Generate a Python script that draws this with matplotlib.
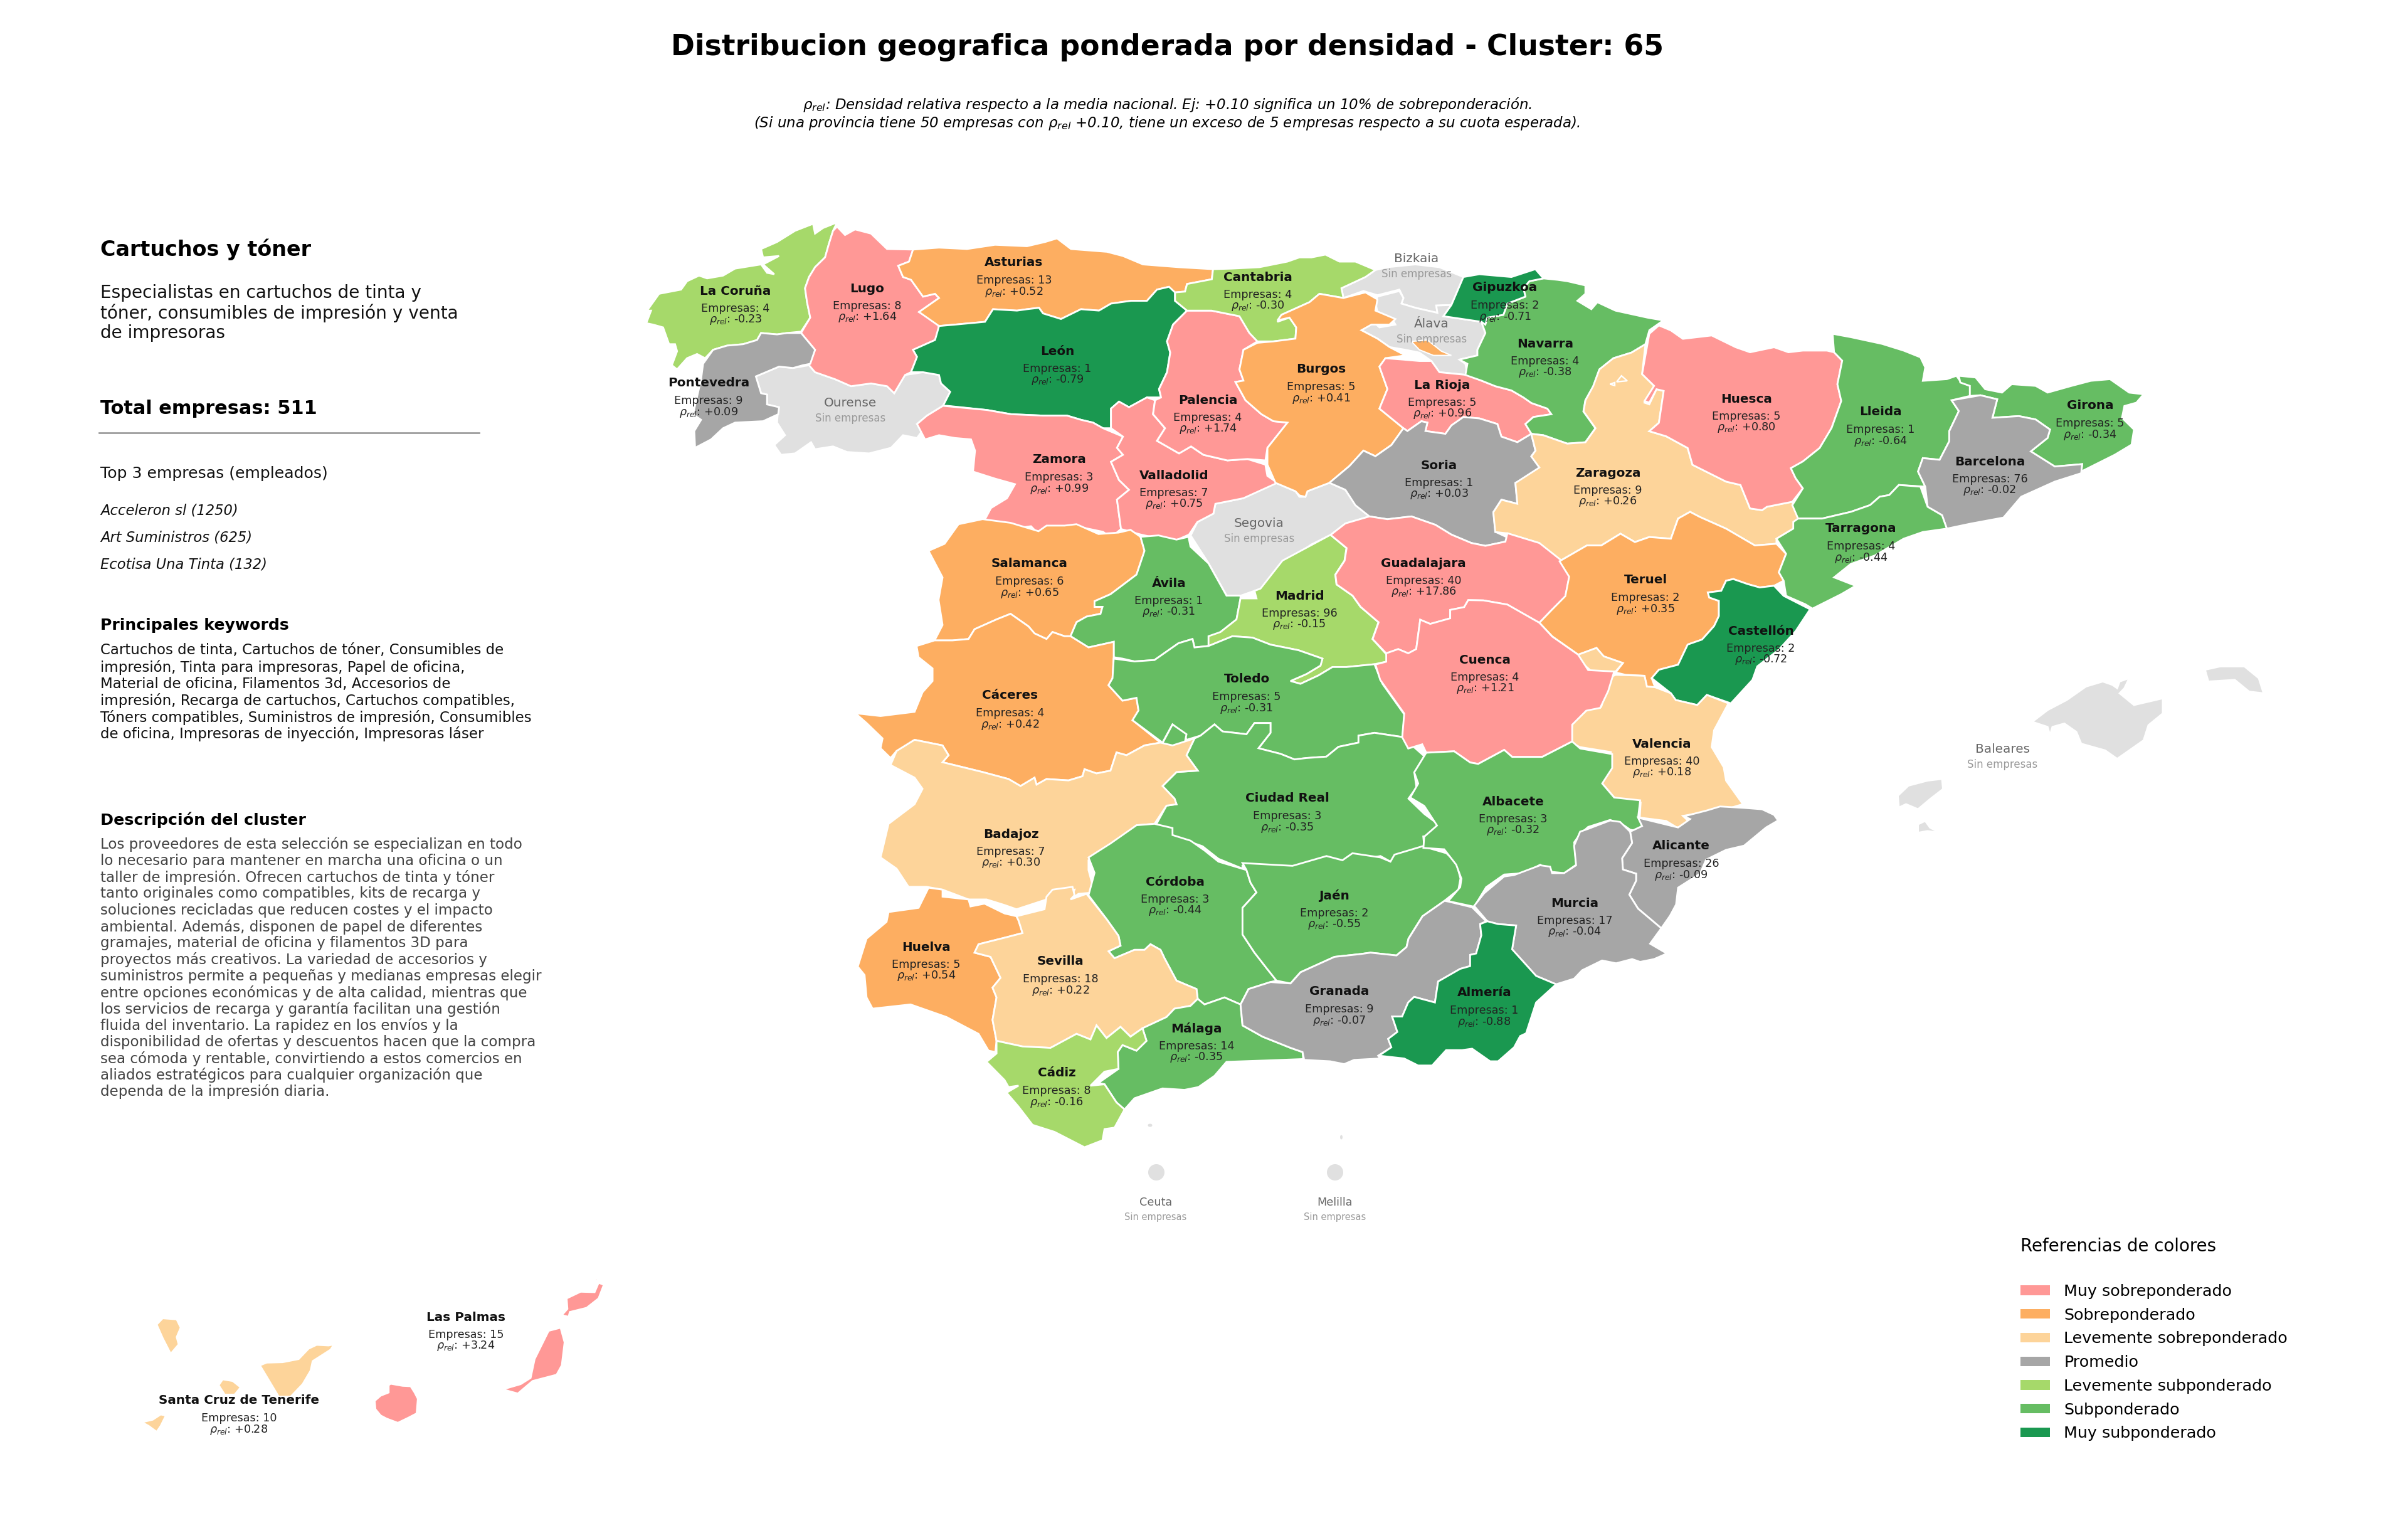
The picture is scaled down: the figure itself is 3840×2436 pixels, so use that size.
import matplotlib
matplotlib.use('Agg')
import matplotlib.pyplot as plt
from matplotlib.patches import Polygon, Ellipse, Patch

# datos por provincia
provincias = ['La Coruña', 'Lugo', 'Asturias', 'León', 'Pontevedra', 'Zamora', 'Valladolid', 'Palencia',
              'Salamanca', 'Ávila', 'Cantabria', 'Burgos', 'La Rioja', 'Navarra', 'Gipuzkoa', 'Soria',
              'Zaragoza', 'Huesca', 'Madrid', 'Guadalajara', 'Teruel', 'Lleida', 'Girona', 'Barcelona',
              'Tarragona', 'Castellón', 'Valencia', 'Cáceres', 'Toledo', 'Ciudad Real', 'Badajoz', 'Córdoba',
              'Jaén', 'Cuenca', 'Albacete', 'Alicante', 'Murcia', 'Huelva', 'Sevilla', 'Málaga', 'Granada',
              'Cádiz', 'Almería', 'Las Palmas', 'Santa Cruz de Tenerife']
empresas = [4, 8, 13, 1, 9, 3, 7, 4, 6, 1, 4, 5, 5, 4, 2, 1, 9, 5, 96, 40, 2, 1, 5, 76, 4, 2, 40, 4, 5, 3, 7, 3,
            2, 4, 3, 26, 17, 5, 18, 14, 9, 8, 1, 15, 10]
rho_rel = [-0.23, 1.64, 0.52, -0.79, 0.09, 0.99, 0.75, 1.74, 0.65, -0.31, -0.30, 0.41, 0.96, -0.38, -0.71, 0.03,
           0.26, 0.80, -0.15, 17.86, 0.35, -0.64, -0.34, -0.02, -0.44, -0.72, 0.18, 0.42, -0.31, -0.35, 0.30, -0.44,
           -0.55, 1.21, -0.32, -0.09, -0.04, 0.54, 0.22, -0.35, -0.07, -0.16, -0.88, 3.24, 0.28]
categoria = [4, 0, 1, 6, 3, 0, 0, 0, 1, 5, 4, 1, 0, 5, 6, 3, 2, 0, 4, 0, 1, 5, 5, 3, 5, 6, 2, 1, 5, 5, 2, 5,
             5, 0, 5, 3, 3, 1, 2, 5, 3, 4, 6, 0, 2]
sin_empresas = ['Ourense', 'Bizkaia', 'Álava', 'Segovia', 'Baleares', 'Ceuta', 'Melilla']

# centro de la etiqueta (px de la imagen)
label_xy = [(1173, 464), (1383, 460), (1617, 419), (1686, 560), (1130, 611), (1689, 733), (1872, 758), (1926, 638),
            (1642, 899), (1864, 930), (2006, 442), (2107, 589), (2300, 614), (2464, 548), (2400, 459), (2295, 742),
            (2564, 754), (2785, 636), (2072, 950), (2270, 898), (2624, 925), (2999, 657), (3333, 647), (3173, 736),
            (2968, 843), (2808, 1006), (2650, 1186), (1611, 1109), (1988, 1083), (2053, 1273), (1612, 1330), (1874, 1406),
            (2128, 1428), (2368, 1052), (2413, 1278), (2681, 1349), (2511, 1440), (1477, 1510), (1691, 1533), (1908, 1640),
            (2136, 1581), (1685, 1711), (2367, 1583), (743, 2100), (381, 2233)]
sin_label_xy = [(1356, 643), (2259, 413), (2283, 517), (2008, 835), (3193, 1195), (1843, 1917), (2129, 1917)]

cat_labels = ['Muy sobreponderado', 'Sobreponderado', 'Levemente sobreponderado', 'Promedio',
              'Levemente subponderado', 'Subponderado', 'Muy subponderado']
cat_colors = ['#FF9896', '#FDAE61', '#FDD49A', '#A6A6A6', '#A6D96A', '#66BD63', '#1A9850']
color_sin = '#E0E0E0'

# contornos trazados a mano sobre recortes del mapa: (x0, y0, escala x, escala y)
Z1 = (1000, 330, 1.568, 2.24)
Z2 = (1900, 330, 1.568, 2.24)
Z3 = (2500, 500, 1.3067, 1.867)
Z4 = (1350, 800, 1.568, 2.24)
Z5 = (2150, 950, 1.568, 2.24)
Z6 = (1350, 1300, 1.568, 2.24)
Z7 = (2000, 1250, 1.568, 2.24)
Z8 = (100, 2000, 1.568, 3.0)

coruna = [(525,55),(515,85),(505,130),(495,180),(470,215),(455,250),(445,290),(450,340),(458,395),(435,445),(400,450),(375,455),(335,450),(325,475),(290,490),(250,495),(215,510),(195,540),(175,525),(150,540),(125,580),(112,565),(125,515),(120,490),(105,490),(90,430),(65,420),(48,415),(60,370),(50,370),(80,310),(135,295),(150,265),(180,245),(200,255),(240,245),(270,220),(335,205),(350,235),(368,240),(340,205),(380,175),(340,180),(335,150),(375,125),(420,85),(465,60),(470,95),(490,75)]
pontevedra = [(435,450),(470,510),(458,560),(440,565),(415,575),(380,570),(322,605),(335,665),(350,670),(350,705),(380,715),(378,740),(340,765),(270,770),(240,790),(210,830),(170,860),(168,800),(185,760),(165,740),(185,615),(190,560),(215,510),(250,495),(290,490),(325,475),(335,450),(375,455),(400,450)]
ourense = [(322,605),(380,570),(415,575),(455,565),(470,590),(520,615),(560,640),(610,630),(650,640),(668,665),(695,600),(740,590),(780,600),(785,630),(808,660),(790,710),(750,745),(725,775),(740,795),(725,825),(690,815),(660,860),(605,880),(550,875),(515,855),(470,865),(460,840),(420,880),(385,885),(368,850),(395,815),(375,770),(378,715),(350,705),(350,670),(335,665)]
lugo = [(525,70),(545,100),(570,80),(610,95),(650,150),(715,152),(705,195),(678,210),(690,250),(710,260),(740,320),(770,310),(780,325),(730,375),(775,405),(780,435),(770,475),(715,510),(725,535),(710,590),(695,600),(668,665),(650,640),(610,630),(560,640),(520,615),(470,590),(455,565),(470,510),(435,450),(458,395),(450,340),(445,290),(455,250),(470,215),(495,180),(505,130),(515,85)]
asturias = [(715,152),(780,145),(850,150),(920,135),(1000,140),(1045,125),(1075,112),(1110,150),(1200,160),(1240,175),(1290,205),(1380,215),(1465,222),(1462,258),(1400,275),(1395,302),(1370,305),(1355,285),(1325,295),(1300,335),(1260,335),(1210,345),(1180,370),(1135,365),(1085,400),(1040,380),(1030,360),(1000,365),(975,370),(915,365),(895,410),(820,420),(780,425),(730,375),(780,325),(770,310),(740,320),(710,260),(690,250),(678,210),(705,195)]
leon = [(780,425),(820,420),(895,410),(915,365),(975,370),(1000,365),(1030,360),(1040,380),(1085,400),(1135,365),(1180,370),(1210,345),(1260,335),(1300,335),(1325,295),(1355,285),(1370,305),(1370,335),(1400,370),(1365,420),(1350,480),(1358,520),(1350,590),(1330,650),(1335,680),(1300,680),(1255,715),(1230,695),(1210,720),(1210,790),(1190,790),(1165,770),(1135,760),(1100,745),(1040,745),(960,740),(900,725),(800,710),(790,710),(808,660),(785,630),(780,600),(740,590),(710,590),(725,535),(715,510),(770,475)]
zamora = [(790,710),(900,725),(960,740),(1040,745),(1100,745),(1135,760),(1165,770),(1190,790),(1240,820),(1225,860),(1240,885),(1210,910),(1230,975),(1255,1010),(1225,1045),(1235,1150),(1210,1180),(1190,1160),(1140,1145),(1100,1170),(1050,1140),(1030,1170),(1010,1140),(960,1150),(895,1115),(910,1075),(950,1040),(970,990),(920,970),(865,945),(870,870),(860,830),(820,825),(780,815),(745,830),(725,775),(750,745)]
valladolid = [(1210,790),(1210,720),(1230,695),(1255,715),(1300,680),(1320,690),(1315,740),(1345,790),(1325,835),(1380,880),(1410,855),(1441,885),(1501,905),(1551,900),(1596,920),(1601,960),(1626,985),(1541,1040),(1471,1060),(1466,1095),(1426,1125),(1405,1170),(1365,1195),(1285,1170),(1235,1150),(1225,1045),(1255,1010),(1230,975),(1210,910),(1240,885),(1225,860),(1240,820)]
palencia = [(-11,370),(50,370),(120,390),(145,450),(165,480),(130,510),(120,580),(130,620),(110,625),(135,690),(175,740),(205,765),(240,770),(215,815),(190,860),(185,905),(140,900),(90,905),(30,885),(-1,855),(-31,880),(-86,835),(-66,790),(-96,740),(-91,690),(-76,680),(-81,650),(-61,590),(-53,520),(-61,480),(-46,420)]
cantabria = [(54,222),(100,220),(170,215),(240,195),(270,180),(300,180),(335,170),(370,195),(410,195),(460,225),(435,250),(375,290),(380,325),(320,310),(295,340),(225,385),(215,410),(245,395),(262,430),(260,470),(205,480),(165,480),(145,450),(120,390),(50,370),(-11,370),(-41,335),(-41,305),(-16,302),(-11,275),(51,258)]
burgos = [(215,405),(225,385),(295,340),(320,310),(380,325),(435,305),(465,330),(460,370),(510,400),(495,420),(450,420),(425,440),(465,470),(495,500),(535,530),(485,540),(470,570),(490,650),(470,720),(530,790),(500,850),(460,890),(430,870),(395,925),(345,985),(290,1015),(285,1035),(270,1030),(260,1015),(210,985),(190,920),(190,860),(240,770),(205,765),(175,740),(135,690),(110,625),(130,620),(120,580),(130,510),(165,485),(205,480),(260,470),(262,430),(245,395)]
bizkaia = [(435,250),(460,225),(490,215),(560,205),(620,215),(680,250),(665,300),(650,350),(612,352),(615,378),(560,360),(525,345),(530,325),(520,295),(465,315),(430,300),(380,325),(375,290)]
alava = [(465,320),(520,300),(530,325),(525,345),(560,360),(615,378),(612,352),(650,350),(630,390),(725,410),(735,450),(715,510),(715,530),(670,545),(685,560),(690,600),(620,590),(600,550),(570,520),(535,510),(495,500),(465,470),(425,440),(455,410),(470,430),(510,420),(500,395),(465,375),(460,340)]
trevino = [(550,480),(590,475),(625,515),(650,530),(605,530),(570,510)]
gipuzkoa = [(680,250),(720,240),(800,250),(860,222),(880,255),(845,265),(830,290),(835,320),(790,345),(780,385),(740,395),(735,420),(725,410),(630,390),(650,350),(665,300)]
navarra = [(830,290),(845,265),(880,255),(915,260),(940,265),(985,280),(985,310),(965,335),(1000,365),(1015,340),(1060,370),(1140,395),(1180,405),(1145,440),(1135,490),(1100,520),(1055,540),(1020,580),(1005,640),(985,690),(980,730),(1010,790),(985,840),(940,845),(880,815),(850,810),(835,775),(855,750),(900,740),(890,720),(850,700),(830,680),(800,655),(760,640),(725,620),(685,600),(690,560),(670,545),(715,530),(715,510),(735,450),(725,410),(740,395),(780,385),(790,345),(835,320)]
rioja = [(470,570),(485,540),(530,545),(570,550),(600,550),(620,590),(690,600),(725,620),(760,640),(800,655),(830,680),(850,700),(890,720),(900,740),(855,750),(835,775),(850,810),(815,840),(775,820),(765,775),(720,755),(680,750),(650,780),(635,810),(585,800),(590,770),(575,765),(540,800),(530,790),(470,720),(490,650)]
soria = [(530,790),(540,800),(575,765),(590,770),(585,800),(635,810),(650,780),(680,750),(720,755),(765,775),(775,820),(815,840),(850,810),(860,870),(850,890),(870,930),(850,960),(810,985),(815,1060),(775,1045),(755,1090),(760,1160),(790,1180),(785,1195),(735,1210),(700,1200),(650,1170),(610,1135),(550,1105),(490,1115),(445,1105),(410,1065),(385,1010),(345,985),(395,925),(430,870),(460,890),(500,850)]
segovia = [(210,985),(260,1015),(270,1035),(285,1035),(290,1015),(345,985),(385,1010),(410,1065),(445,1105),(385,1130),(348,1171),(300,1205),(225,1280),(173,1363),(123,1388),(88,1388),(43,1273),(-2,1173),(15,1125),(55,1095),(60,1060),(130,1040)]
guadalajara = [(348,1171),(385,1130),(445,1105),(490,1115),(550,1105),(610,1135),(650,1170),(700,1200),(735,1210),(785,1195),(790,1165),(870,1200),(925,1262),(945,1320),(935,1390),(900,1440),(870,1485),(790,1420),(730,1405),(692,1404),(682,1429),(647,1439),(647,1469),(597,1489),(572,1474),(562,1579),(542,1594),(517,1579),(487,1594),(453,1543),(468,1483),(423,1428),(403,1388),(363,1348),(360,1313),(383,1263),(388,1218)]
madrid = [(1210,118),(1250,165),(1245,210),(1222,260),(1225,295),(1265,335),(1285,375),(1330,430),(1315,490),(1350,545),(1352,570),(1320,580),(1250,590),(1215,590),(1180,620),(1135,650),(1110,640),(1150,615),(1185,585),(1190,560),(1130,530),(1060,510),(1015,485),(965,480),(905,515),(905,480),(935,465),(975,420),(985,345),(1025,345),(1020,318),(1035,310),(1090,210)]
avila = [(735,125),(780,120),(825,135),(855,125),(860,160),(905,220),(950,335),(985,335),(985,345),(975,420),(935,465),(905,515),(870,520),(865,490),(830,505),(790,545),(770,565),(720,570),(690,560),(668,555),(668,500),(605,520),(560,480),(575,430),(600,410),(635,400),(640,375),(620,375),(620,355),(660,330),(725,260),(745,175)]
salamanca = [(340,62),(410,75),(480,105),(500,85),(545,85),(575,80),(630,115),(680,110),(710,100),(735,125),(745,175),(725,260),(660,330),(620,355),(620,375),(640,375),(635,400),(600,410),(575,430),(560,480),(545,480),(515,465),(500,490),(470,470),(455,445),(410,400),(375,420),(320,455),(305,490),(265,495),(220,495),(240,440),(230,350),(240,270),(205,175),(245,150),(280,80)]
caceres = [(175,515),(220,495),(265,495),(305,490),(320,455),(375,420),(410,400),(455,445),(470,470),(500,490),(515,465),(545,480),(560,480),(605,520),(668,500),(668,555),(665,630),(655,655),(690,710),(725,700),(730,745),(715,780),(785,860),(745,870),(700,905),(675,895),(660,960),(625,970),(595,955),(590,980),(555,995),(500,990),(475,1010),(470,985),(435,1015),(405,990),(340,965),(240,930),(255,905),(240,870),(170,850),(125,890),(110,915),(85,880),(90,845),(50,790),(22,755),(85,765),(170,750),(190,680),(215,640),(215,595),(180,555)]
badajoz = [(170,850),(240,870),(255,905),(240,930),(340,965),(405,990),(435,1015),(470,985),(475,1010),(500,990),(555,995),(590,980),(595,955),(625,970),(660,960),(675,895),(700,905),(745,870),(785,860),(815,870),(870,845),(850,905),(878,960),(825,965),(790,1015),(820,1060),(825,1080),(800,1085),(770,1150),(725,1155),(660,1230),(605,1280),(605,1315),(620,1395),(580,1400),(560,1420),(570,1385),(515,1395),(500,1420),(425,1455),(395,1440),(350,1420),(305,1420),(240,1385),(200,1375),(155,1375),(125,1310),(85,1270),(105,1150),(170,1080),(190,1025),(170,985),(110,940),(125,890)]
toledo = [(668,560),(720,570),(770,565),(790,545),(830,505),(865,490),(870,520),(905,515),(965,480),(1015,485),(1060,510),(1130,530),(1190,560),(1185,585),(1150,615),(1110,640),(1135,650),(1180,620),(1215,590),(1250,590),(1320,580),(1340,650),(1395,760),(1390,840),(1320,825),(1280,835),(1280,860),(1230,875),(1200,910),(1150,915),(1120,920),(1085,900),(1030,880),(1060,825),(1060,790),(1020,790),(1000,830),(940,820),(920,795),(885,835),(850,850),(845,830),(815,795),(790,860),(715,780),(730,745),(725,700),(690,710),(655,655),(665,630)]
ciudad_real = [(870,845),(885,835),(920,795),(940,820),(1000,830),(1020,790),(1060,790),(1060,825),(1030,880),(1085,900),(1120,920),(1150,915),(1200,910),(1230,875),(1280,860),(1280,835),(1320,825),(1390,840),(1450,915),(1420,970),(1425,1020),(1405,1060),(1445,1115),(1478,1150),(1465,1190),(1442,1195),(1445,1235),(1395,1260),(1360,1285),(1335,1265),(1260,1285),(1240,1290),(1200,1275),(1120,1300),(990,1300),(990,1310),(930,1275),(890,1230),(810,1190),(775,1150),(800,1085),(825,1080),(820,1060),(790,1015),(825,965),(878,960),(850,905)]
ciudad_real_isla = [(815,795),(850,830),(845,865),(815,875),(790,862)]
cordoba = [(725,35),(770,30),(815,45),(815,70),(860,90),(895,125),(930,165),(1000,195),(1010,240),(1025,275),(990,330),(990,425),(1020,490),(1050,545),(1075,590),(1060,595),(1005,620),(985,675),(945,650),(895,675),(878,655),(875,620),(825,590),(795,510),(785,480),(760,460),(745,480),(720,480),(670,510),(655,485),(685,465),(680,430),(650,370),(605,285),(620,205),(605,150),(660,100)]
jaen = [(990,170),(1115,180),(1200,145),(1240,160),(1265,135),(1335,150),(1360,165),(1370,140),(1440,110),(1500,135),(1525,170),(1535,225),(1530,265),(1495,305),(1440,360),(1405,440),(1400,470),(1375,500),(1310,490),(1285,495),(1220,505),(1135,560),(1110,600),(1075,590),(1050,545),(1020,490),(990,425),(990,330),(1025,275),(1010,240),(1000,195)]
sevilla = [(425,360),(495,335),(500,290),(515,265),(565,255),(570,285),(560,300),(600,280),(650,370),(680,430),(685,465),(655,485),(670,510),(720,480),(745,480),(760,460),(785,480),(795,510),(825,590),(875,620),(878,655),(860,680),(820,690),(800,720),(740,760),(710,790),(685,755),(650,795),(625,750),(610,800),(575,780),(510,830),(440,825),(375,805),(365,730),(375,650),(365,615),(385,580),(360,505),(320,490),(330,460),(400,435),(440,420),(430,375)]
huelva = [(205,258),(240,265),(240,290),(305,300),(310,325),(345,315),(395,350),(425,360),(430,375),(440,420),(400,435),(330,460),(320,490),(360,505),(385,580),(365,615),(375,650),(365,730),(375,805),(372,845),(355,840),(330,780),(250,720),(160,675),(65,690),(50,650),(45,570),(28,540),(50,440),(100,380),(105,345),(180,330)]
cadiz = [(375,805),(440,825),(510,830),(575,780),(610,800),(625,750),(650,795),(685,755),(710,790),(740,760),(750,805),(725,840),(690,820),(678,845),(680,905),(645,915),(610,965),(645,960),(675,1025),(695,1050),(670,1115),(645,1120),(640,1160),(595,1185),(520,1130),(465,1105),(430,1040),(400,990),(430,965),(405,970),(395,945),(350,880),(375,850)]
malaga = [(878,655),(895,675),(945,650),(985,675),(990,750),(1040,790),(1110,830),(1140,845),(1142,870),(1050,875),(950,880),(920,930),(880,970),(845,980),(790,975),(720,1010),(695,1050),(675,1025),(645,960),(630,955),(680,905),(678,845),(690,820),(725,840),(750,805),(740,760),(800,720),(820,690),(860,680)]
granada = [(-34,787),(-14,732),(41,707),(91,712),(116,672),(201,617),(266,607),(291,602),(356,612),(381,582),(386,552),(421,472),(476,417),(487,420),(545,440),(580,490),(565,500),(568,540),(555,605),(540,610),(540,650),(515,660),(460,705),(452,780),(400,760),(385,780),(370,830),(345,830),(358,885),(335,910),(343,940),(310,970),(315,980),(250,985),(225,1000),(190,990),(125,985),(121,957),(91,942),(21,902),(-29,862)]
almeria = [(583,490),(610,500),(655,505),(645,590),(705,685),(755,715),(705,780),(680,890),(665,900),(650,940),(610,990),(590,990),(545,945),(520,950),(480,950),(445,1005),(410,1005),(375,980),(312,970),(343,940),(335,910),(358,885),(345,830),(370,830),(385,780),(400,760),(452,780),(460,705),(515,660),(540,650),(540,610),(555,605),(568,540),(565,500)]
murcia = [(550,435),(575,390),(625,330),(650,325),(715,290),(740,295),(745,318),(775,318),(805,290),(800,220),(815,170),(835,160),(890,130),(915,135),(940,170),(945,210),(920,265),(922,305),(955,320),(955,345),(938,395),(960,445),(1018,515),(990,570),(1032,605),(1000,625),(965,635),(945,625),(905,640),(870,630),(820,665),(800,695),(755,715),(705,685),(645,590),(655,505),(610,500),(583,490)]
alicante = [(960,120),(1060,155),(1090,125),(1075,115),(1130,95),(1165,80),(1225,85),(1270,90),(1300,110),(1310,130),(1280,155),(1225,220),(1180,235),(1130,270),(1115,320),(1060,370),(1055,430),(1040,470),(1018,515),(960,445),(938,395),(955,345),(955,320),(922,305),(920,265),(945,210),(940,170),(970,150)]
albacete = [(195,560),(265,555),(305,595),(325,600),(390,550),(410,575),(485,575),(560,520),(580,545),(660,565),(660,615),(635,670),(665,720),(730,730),(725,790),(735,820),(725,840),(705,835),(690,820),(655,800),(600,825),(580,850),(565,880),(570,960),(540,990),(505,985),(480,960),(440,990),(390,995),(345,1040),(315,1110),(250,1090),(280,1040),(283,1010),(270,960),(240,905),(188,900),(190,860),(222,820),(190,750),(155,720),(175,670),(165,630)]
cuenca = [(95,205),(125,190),(150,205),(170,190),(180,85),(205,100),(255,80),(255,50),(290,40),(300,15),(338,16),(398,31),(478,96),(510,145),(575,210),(600,265),(665,270),(650,340),(630,400),(595,410),(560,460),(560,520),(485,575),(410,575),(390,550),(325,600),(305,595),(265,555),(195,560),(185,530),(150,545),(135,505),(140,420),(100,340),(80,300),(68,245),(95,235)]
teruel = [(-17,737),(40,690),(70,690),(110,655),(140,680),(170,665),(215,670),(230,610),(255,590),(275,605),(330,640),(390,690),(435,685),(455,715),(440,770),(450,795),(430,810),(400,815),(375,805),(345,790),(330,795),(320,825),(292,830),(295,845),(315,855),(315,900),(305,930),(280,970),(250,985),(230,1045),(190,1060),(175,1085),(182,1112),(165,1110),(160,1078),(120,1075),(100,1068),(115,1040),(75,1020),(60,995),(22,1015),(-32,961),(-59,920),(-34,883),(-5,841),(3,783)]
ademuz = [(22,1015),(60,995),(75,1020),(115,1040),(100,1065),(50,1065),(30,1040)]
valencia = [(100,1075),(160,1078),(165,1110),(182,1112),(215,1130),(225,1150),(270,1165),(290,1135),(335,1160),(305,1240),(300,1290),(325,1350),(330,1390),(365,1460),(330,1475),(260,1490),(240,1495),(255,1515),(228,1530),(205,1510),(150,1500),(152,1455),(100,1445),(70,1395),(90,1340),(90,1305),(25,1290),(5,1275),(10,1220),(40,1180),(70,1170),(80,1120),(85,1085)]
castellon = [(345,790),(375,805),(400,815),(430,810),(450,840),(505,880),(475,945),(440,1000),(395,1050),(385,1090),(340,1160),(290,1135),(270,1165),(225,1150),(215,1130),(175,1085),(190,1060),(230,1045),(250,985),(280,970),(305,930),(315,900),(315,855),(295,845),(292,830),(320,825),(330,795)]
tarragona = [(470,620),(480,610),(530,610),(590,590),(630,570),(650,545),(670,540),(690,510),(735,515),(750,575),(780,600),(790,640),(740,650),(700,670),(640,720),(590,745),(555,785),(600,810),(570,835),(510,878),(495,865),(455,840),(450,795),(440,770),(455,715),(435,670),(470,640)]
delta_ebro = [(535,868),(555,859),(548,866)]
lleida = [(552,60),(590,70),(655,90),(700,110),(735,130),(745,160),(740,200),(790,195),(810,185),(820,205),(838,215),(838,245),(800,258),(815,290),(805,320),(795,350),(795,380),(775,435),(740,430),(730,470),(745,515),(690,510),(670,540),(650,545),(630,570),(590,590),(530,610),(480,610),(468,570),(490,520),(475,490),(465,460),(490,440),(525,400),(550,340),(570,260),(562,210),(572,140),(555,115)]
girona = [(815,185),(850,190),(870,225),(905,235),(925,210),(975,215),(1000,235),(1050,215),(1090,200),(1130,195),(1170,235),(1200,240),(1185,265),(1160,275),(1155,310),(1180,345),(1175,390),(1140,420),(1070,470),(1072,448),(1015,455),(965,410),(1000,370),(1005,345),(975,315),(940,305),(885,310),(895,255),(860,243),(838,245),(838,215),(818,205)]
barcelona = [(800,258),(860,243),(895,255),(885,310),(940,305),(975,315),(1005,345),(1000,370),(965,410),(1015,455),(1072,448),(1070,475),(1015,500),(945,545),(908,607),(840,625),(790,640),(780,600),(750,575),(745,515),(730,470),(740,430),(775,435),(795,380),(795,350),(805,320),(815,290)]
huesca = [(190,35),(215,50),(240,75),(300,65),(350,100),(380,115),(430,100),(460,115),(490,110),(540,110),(555,115),(572,140),(562,210),(570,260),(550,340),(525,400),(490,440),(465,460),(475,490),(490,520),(468,560),(415,575),(405,585),(380,580),(360,510),(330,500),(260,450),(250,400),(205,365),(170,350),(190,325),(200,230),(185,225),(170,265),(160,260),(180,215),(155,180),(170,60)]
zaragoza = [(162,91),(155,180),(180,215),(160,265),(170,270),(185,225),(200,230),(190,325),(170,350),(205,365),(250,400),(260,450),(330,500),(360,510),(380,580),(405,585),(415,575),(468,560),(480,610),(470,640),(435,670),(435,685),(390,690),(330,640),(275,605),(255,590),(230,610),(215,670),(170,665),(140,680),(110,655),(70,690),(40,690),(-17,737),(-59,683),(-126,654),(-151,650),(-155,591),(-138,554),(-105,566),(-109,504),(-59,458),(-76,425),(-67,408),(-76,358),(-51,362),(-1,387),(37,383),(58,341),(33,291),(37,258),(53,216),(66,166),(95,133),(133,116)]
zaragoza_isla_a = [(102,203),(112,185),(124,200)]
zaragoza_isla_b = [(88,210),(98,205),(98,214)]
mallorca = [(968,1215),(1000,1180),(1040,1150),(1080,1110),(1115,1095),(1135,1105),(1145,1115),(1150,1095),(1170,1085),(1160,1115),(1150,1130),(1180,1165),(1240,1145),(1240,1190),(1210,1225),(1200,1270),(1145,1325),(1120,1300),(1070,1280),(1060,1245),(1035,1220),(1010,1230),(1005,1255),(1000,1230)]
menorca = [(1328,1060),(1360,1050),(1410,1050),(1440,1085),(1450,1130),(1420,1125),(1390,1090),(1335,1095)]
ibiza = [(688,1435),(710,1405),(750,1390),(780,1385),(782,1415),(755,1445),(730,1475),(705,1460),(690,1470)]
formentera = [(730,1520),(745,1510),(755,1530),(775,1545),(750,1540),(730,1545)]
la_palma = [(235,335),(250,305),(285,310),(295,350),(285,395),(290,430),(270,475),(250,400)]
tenerife = [(493,530),(510,517),(550,515),(590,500),(615,450),(635,432),(665,435),(678,430),(670,455),(625,510),(620,555),(600,620),(570,680),(540,680),(515,600)]
gomera = [(390,625),(400,597),(425,605),(445,635),(430,670),(405,670)]
hierro = [(198,802),(225,790),(245,765),(258,770),(245,820),(235,848),(215,820)]
gran_canaria = [(780,700),(795,675),(815,660),(815,625),(820,618),(850,628),(870,630),(880,660),(888,690),(885,760),(865,780),(838,805),(810,785),(795,770),(782,740)]
fuerteventura = [(1100,645),(1145,620),(1170,590),(1180,500),(1215,365),(1245,350),(1255,420),(1248,530),(1235,575),(1175,605),(1138,665)]
lanzarote = [(1248,290),(1262,260),(1260,210),(1295,178),(1330,180),(1340,135),(1353,145),(1340,210),(1310,255),(1268,275),(1265,298)]
graciosa = [(1330,125),(1335,108),(1338,125)]

# provincia -> recorte y contornos
outlines = {
    'La Coruña': (Z1, [coruna]), 'Pontevedra': (Z1, [pontevedra]), 'Ourense': (Z1, [ourense]), 'Lugo': (Z1, [lugo]),
    'Asturias': (Z1, [asturias]), 'León': (Z1, [leon]), 'Zamora': (Z1, [zamora]), 'Valladolid': (Z1, [valladolid]),
    'Palencia': (Z2, [palencia]), 'Cantabria': (Z2, [cantabria]), 'Burgos': (Z2, [burgos]),
    'Bizkaia': (Z2, [bizkaia]), 'Álava': (Z2, [alava]), 'Gipuzkoa': (Z2, [gipuzkoa]), 'Navarra': (Z2, [navarra]),
    'La Rioja': (Z2, [rioja]), 'Soria': (Z2, [soria]), 'Segovia': (Z2, [segovia]), 'Guadalajara': (Z2, [guadalajara]),
    'Madrid': (Z4, [madrid]), 'Ávila': (Z4, [avila]), 'Salamanca': (Z4, [salamanca]), 'Cáceres': (Z4, [caceres]),
    'Badajoz': (Z4, [badajoz]), 'Toledo': (Z4, [toledo]), 'Ciudad Real': (Z4, [ciudad_real, ciudad_real_isla]),
    'Córdoba': (Z6, [cordoba]), 'Jaén': (Z6, [jaen]), 'Sevilla': (Z6, [sevilla]), 'Huelva': (Z6, [huelva]),
    'Cádiz': (Z6, [cadiz]), 'Málaga': (Z6, [malaga]), 'Granada': (Z7, [granada]), 'Almería': (Z7, [almeria]),
    'Murcia': (Z7, [murcia]), 'Alicante': (Z7, [alicante]), 'Albacete': (Z5, [albacete]), 'Cuenca': (Z5, [cuenca]),
    'Teruel': (Z3, [teruel]), 'Valencia': (Z3, [valencia, ademuz]), 'Castellón': (Z3, [castellon]),
    'Tarragona': (Z3, [tarragona, delta_ebro]), 'Lleida': (Z3, [lleida]), 'Girona': (Z3, [girona]), 'Barcelona': (Z3, [barcelona]),
    'Huesca': (Z3, [huesca]), 'Zaragoza': (Z3, [zaragoza]),
    'Baleares': (Z3, [mallorca, menorca, ibiza, formentera]),
    'Las Palmas': (Z8, [gran_canaria, fuerteventura, lanzarote, graciosa]),
    'Santa Cruz de Tenerife': (Z8, [la_palma, tenerife, gomera, hierro]),
}

especialidad = ['Especialistas en cartuchos de tinta y', 'tóner, consumibles de impresión y venta', 'de impresoras']
top3 = ['Acceleron sl (1250)', 'Art Suministros (625)', 'Ecotisa Una Tinta (132)']
keywords = ['Cartuchos de tinta, Cartuchos de tóner, Consumibles de',
            'impresión, Tinta para impresoras, Papel de oficina,',
            'Material de oficina, Filamentos 3d, Accesorios de',
            'impresión, Recarga de cartuchos, Cartuchos compatibles,',
            'Tóners compatibles, Suministros de impresión, Consumibles',
            'de oficina, Impresoras de inyección, Impresoras láser']
descripcion = ['Los proveedores de esta selección se especializan en todo',
               'lo necesario para mantener en marcha una oficina o un',
               'taller de impresión. Ofrecen cartuchos de tinta y tóner',
               'tanto originales como compatibles, kits de recarga y',
               'soluciones recicladas que reducen costes y el impacto',
               'ambiental. Además, disponen de papel de diferentes',
               'gramajes, material de oficina y filamentos 3D para',
               'proyectos más creativos. La variedad de accesorios y',
               'suministros permite a pequeñas y medianas empresas elegir',
               'entre opciones económicas y de alta calidad, mientras que',
               'los servicios de recarga y garantía facilitan una gestión',
               'fluida del inventario. La rapidez en los envíos y la',
               'disponibilidad de ofertas y descuentos hacen que la compra',
               'sea cómoda y rentable, convirtiendo a estos comercios en',
               'aliados estratégicos para cualquier organización que',
               'dependa de la impresión diaria.']


def to_px(points, crop):
    x0, y0, sx, sy = crop
    return [(x0 + x / sx, y0 + y / sy) for x, y in points]


def draw_outlines(ax, name, color, zorder=2):
    crop, polys = outlines[name]
    for pts in polys:
        ax.add_patch(Polygon(to_px(pts, crop), closed=True, fc=color, ec='white', lw=0.85, zorder=zorder))


fig = plt.figure(figsize=(16, 10.15), dpi=240)
ax = fig.add_axes([0, 0, 1, 1])
ax.set_xlim(0, 3840)
ax.set_ylim(2436, 0)
ax.axis('off')

# mapa
for name in sin_empresas:
    if name in outlines:
        draw_outlines(ax, name, color_sin)
for name, cat in zip(provincias, categoria):
    draw_outlines(ax, name, cat_colors[cat])
# enclaves por encima de la provincia que los rodea
ax.add_patch(Polygon(to_px(trevino, Z2), closed=True, fc=cat_colors[1], ec='white', lw=0.6, zorder=3))
for pts in [zaragoza_isla_a, zaragoza_isla_b]:
    ax.add_patch(Polygon(to_px(pts, Z3), closed=True, fc=cat_colors[2], ec='white', lw=0.7, zorder=3))

# ceuta y melilla
ax.add_patch(Ellipse((1844, 1869), 26, 26, fc=color_sin, ec='none', zorder=2))
ax.add_patch(Ellipse((2129, 1869), 26, 26, fc=color_sin, ec='none', zorder=2))
ax.add_patch(Ellipse((1834, 1794), 7, 5, fc=color_sin, ec='none', zorder=2))
ax.add_patch(Ellipse((2139, 1813), 4, 7, fc=color_sin, ec='none', zorder=2))

# etiquetas
for name, n, rho, (x, y) in zip(provincias, empresas, rho_rel, label_xy):
    ax.text(x, y, name, ha='center', va='center', fontsize=6, fontweight='bold', color='#111111', zorder=5)
    ax.text(x, y + 28, 'Empresas: %d' % n, ha='center', va='center', fontsize=5.3, color='#222222', zorder=5)
    ax.text(x, y + 46, r'$\rho_{rel}$: %+.2f' % rho, ha='center', va='center', fontsize=5.3, color='#222222', zorder=5)
for name, (x, y) in zip(sin_empresas, sin_label_xy):
    small = name in ('Ceuta', 'Melilla')
    ax.text(x, y, name, ha='center', va='center', fontsize=5.3 if small else 6, color='#666666', zorder=5)
    ax.text(x, y + 24, 'Sin empresas', ha='center', va='center', fontsize=4.4 if small else 5, color='#999999', zorder=5)

# titulo
ax.text(1861, 76, 'Distribucion geografica ponderada por densidad - Cluster: 65', ha='center', va='center',
        fontsize=13.7, fontweight='bold', color='black')
ax.text(1861, 167, r'$\rho_{rel}$: Densidad relativa respecto a la media nacional. Ej: +0.10 significa un 10% de sobreponderación.',
        ha='center', va='center', fontsize=6.85, style='italic', color='black')
ax.text(1861, 196, r'(Si una provincia tiene 50 empresas con $\rho_{rel}$ +0.10, tiene un exceso de 5 empresas respecto a su cuota esperada).',
        ha='center', va='center', fontsize=6.85, style='italic', color='black')

# panel izquierdo
left = 160
ax.text(left, 398, 'Cartuchos y tóner', va='center', fontsize=10, fontweight='bold', color='black')
for i, line in enumerate(especialidad):
    ax.text(left, 467 + i * 32, line, va='center', fontsize=8.4, color='#111111')
ax.text(left, 651, 'Total empresas: 511', va='center', fontsize=9.1, fontweight='bold', color='black')
ax.plot([158, 764], [690, 690], color='#999999', lw=0.8)
ax.text(left, 755, 'Top 3 empresas (empleados)', va='center', fontsize=7.55, color='#111111')
for i, line in enumerate(top3):
    ax.text(left, 814 + i * 43, line, va='center', fontsize=6.8, style='italic', color='#111111')
ax.text(left, 997, 'Principales keywords', va='center', fontsize=7.55, fontweight='bold', color='black')
for i, line in enumerate(keywords):
    ax.text(left, 1037 + i * 26.7, line, va='center', fontsize=6.87, color='#111111')
ax.text(left, 1307, 'Descripción del cluster', va='center', fontsize=7.6, fontweight='bold', color='black')
for i, line in enumerate(descripcion):
    ax.text(left, 1346 + i * 26.3, line, va='center', fontsize=6.9, color='#444444')

# leyenda
handles = [Patch(fc=c, ec='none', label=l) for c, l in zip(cat_colors, cat_labels)]
leg = ax.legend(handles=handles, title='Referencias de colores\n', loc='upper left', bbox_to_anchor=(3199 / 3840, 1 - 1950 / 2436),
                frameon=False, fontsize=7.6, title_fontsize=8.3, alignment='left', handlelength=1.88, handleheight=0.55,
                labelspacing=0.543, handletextpad=0.87)

fig.savefig('out.png', dpi=240)
